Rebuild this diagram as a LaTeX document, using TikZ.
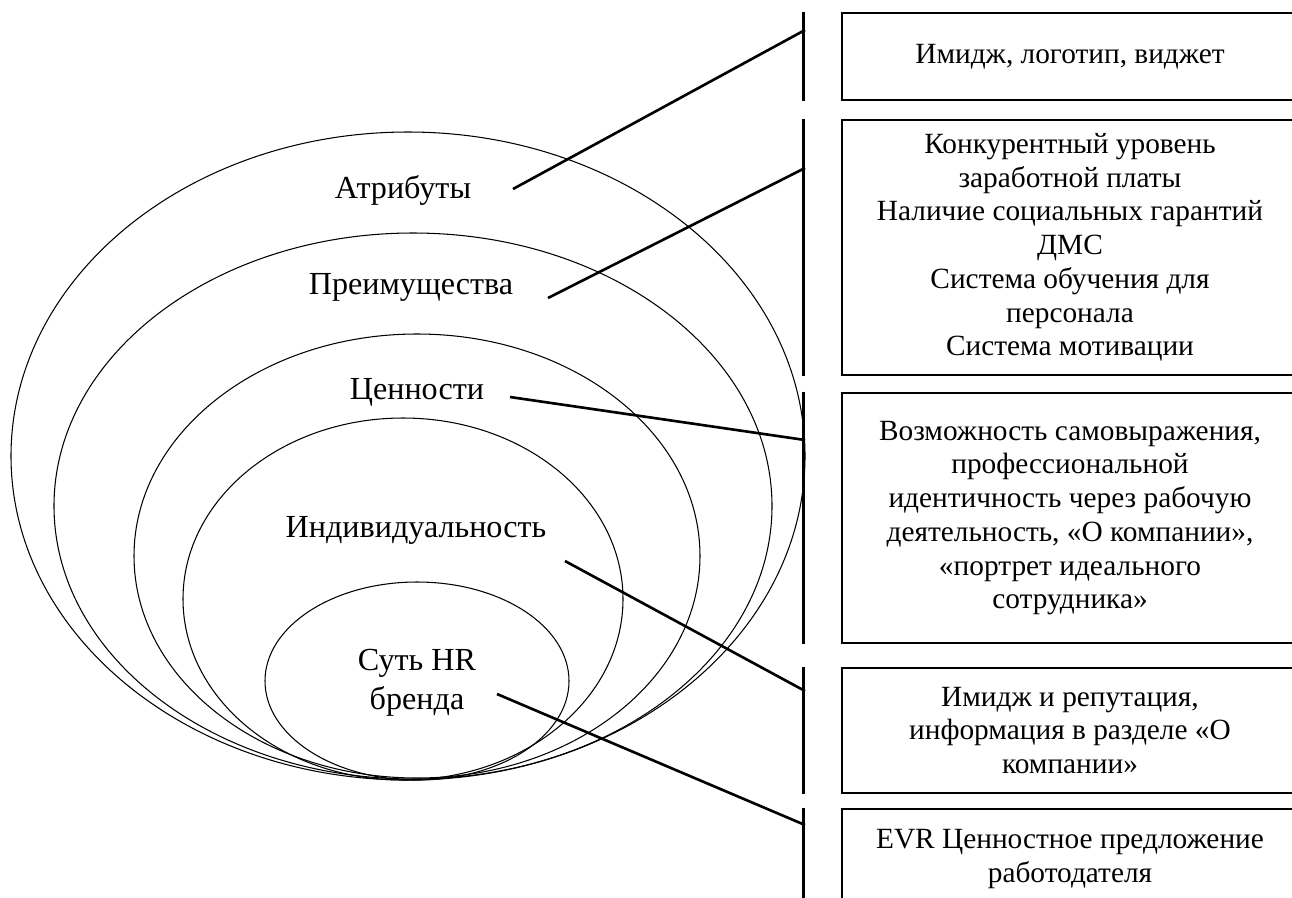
\documentclass[tikz,border=0pt]{standalone}
\usepackage{fontspec}
\setmainfont{Liberation Serif}
\usepackage{tikz}
\usetikzlibrary{calc}
\usetikzlibrary{positioning}

\begin{document}
\begin{tikzpicture}[x=0.02cm, y=-0.02cm,
		layer/.style={line width=0.6pt},
		lbl/.style={font=\fontsize{18.3}{22}\selectfont, align=center, inner sep=0pt},
		infobox/.style={draw, line width=1.5pt, minimum width=9.12cm, inner sep=0pt,
			font=\fontsize{16.7}{19.2}\selectfont, align=center},
		bar/.style={line width=1.5pt},
		link/.style={line width=1.5pt}]
		\useasboundingbox (0,0) rectangle (1292,897);

		% nested ellipses
		\draw[layer] (408,456) ellipse (397 and 324);
		\draw[layer] (413,506) ellipse (359 and 273);
		\draw[layer] (417,556) ellipse (283 and 222);
		\draw[layer] (403,599) ellipse (220 and 181);
		\draw[layer] (417,681) ellipse (152 and 99);

		\node[lbl] (attr) at (403,190) {Атрибуты};
		\node[lbl] (adv) at (411,287) {Преимущества};
		\node[lbl] (val) at (417,392) {Ценности};
		\node[lbl] (ind) at (416,530) {Индивидуальность};
		\node[lbl] (core) at (417,683) {Суть HR\\бренда};

		% boxes on the right
		\node[infobox, minimum height=1.74cm] (b1) at (1070,56.5) {Имидж, логотип, виджет};
		\node[infobox, minimum height=5.1cm] (b2) at (1070,247.5) {Конкурентный уровень\\заработной платы\\Наличие социальных гарантий\\ДМС\\Система обучения для\\персонала\\Система мотивации};
		\node[infobox, minimum height=5cm] (b3) at (1070,518) {Возможность самовыражения,\\профессиональной\\идентичность через рабочую\\деятельность, «О компании»,\\«портрет идеального\\сотрудника»};
		\node[infobox, minimum height=2.5cm] (b4) at (1070,730.5) {Имидж и репутация,\\информация в разделе «О\\компании»};
		\node[infobox, minimum height=2cm] (b5) at (1070,859) {EVR Ценностное предложение\\работодателя};

		\foreach \b in {b1,b2,b3,b4,b5}
			\draw[bar] ([xshift=-0.74cm]\b.north west) -- ([xshift=-0.74cm]\b.south west);

		\coordinate (s1) at (513,189);
		\coordinate (s2) at (548,298);
		\coordinate (s3) at (510,397);
		\coordinate (s4) at (565,561);
		\coordinate (s5) at (497,694);
		\coordinate (t1) at (805,30);
		\coordinate (t2) at (805,168);
		\coordinate (t3) at (805,440);
		\coordinate (t4) at (805,691);
		\coordinate (t5) at (805,825);

		\draw[link] (s1) -- (t1);
		\draw[link] (s2) -- (t2);
		\draw[link] (s3) -- (t3);
		\draw[link] (s4) -- (t4);
		\draw[link] (s5) -- (t5);
\end{tikzpicture}
\end{document}
